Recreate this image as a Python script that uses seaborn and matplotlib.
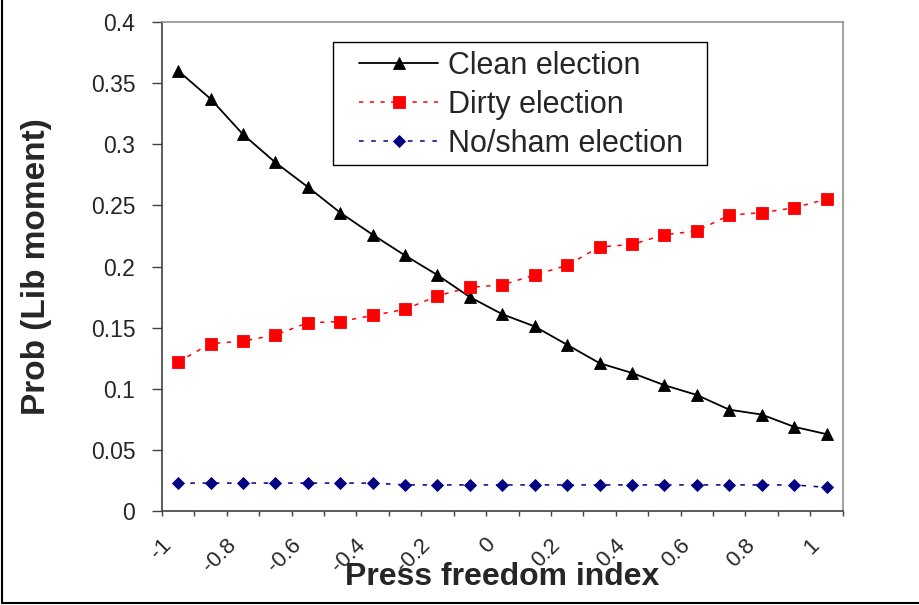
"""
Probability of a liberalizing moment by press freedom index
"""
import numpy as np
import pandas as pd
import matplotlib.pyplot as plt
import matplotlib.transforms as mtransforms
from matplotlib.lines import Line2D
from matplotlib.patches import Rectangle
from matplotlib.ticker import FixedLocator
import seaborn as sns

sns.set_style("white")
plt.rcParams['font.family'] = ['Liberation Sans', 'DejaVu Sans']

# Data
press_index = [-1.0, -0.9, -0.8, -0.7, -0.6, -0.5, -0.4, -0.3, -0.2, -0.1, 0.0,
               0.1, 0.2, 0.3, 0.4, 0.5, 0.6, 0.7, 0.8, 0.9, 1.0]
clean = [0.360, 0.337, 0.308, 0.285, 0.265, 0.244, 0.226, 0.209, 0.193, 0.175, 0.161,
         0.151, 0.136, 0.121, 0.113, 0.103, 0.095, 0.083, 0.079, 0.069, 0.063]
dirty = [0.122, 0.137, 0.139, 0.144, 0.154, 0.155, 0.160, 0.165, 0.176, 0.183, 0.185,
         0.193, 0.201, 0.216, 0.218, 0.226, 0.229, 0.242, 0.244, 0.248, 0.255]
no_sham = [0.023, 0.023, 0.023, 0.023, 0.023, 0.023, 0.023, 0.0215, 0.0215, 0.0215, 0.0215,
           0.0215, 0.0215, 0.0215, 0.0215, 0.0215, 0.0215, 0.0215, 0.0215, 0.0215, 0.0195]

series_names = ['Clean election', 'Dirty election', 'No/sham election']
y_ticks = [0, 0.05, 0.1, 0.15, 0.2, 0.25, 0.3, 0.35, 0.4]
x_label_ticks = [-1, -0.8, -0.6, -0.4, -0.2, 0, 0.2, 0.4, 0.6, 0.8, 1]

df = pd.DataFrame({
    'x': press_index * 3,
    'prob': clean + dirty + no_sham,
    'series': np.repeat(series_names, len(press_index)),
})

fig = plt.figure(figsize=(9.2, 6.05), dpi=100)
ax = fig.add_axes([0.176, 0.155, 0.740, 0.809])

palette = {'Clean election': 'black', 'Dirty election': '#FF0000', 'No/sham election': '#000080'}
markers = {'Clean election': '^', 'Dirty election': 's', 'No/sham election': 'D'}
dashes = {'Clean election': '', 'Dirty election': (2.8, 4.2), 'No/sham election': (3.0, 5.0)}

sns.lineplot(data=df, x='x', y='prob', hue='series', style='series',
             hue_order=series_names, style_order=series_names,
             palette=palette, markers=markers, dashes=dashes,
             linewidth=1.1, markersize=8.8, markeredgewidth=0.6,
             markeredgecolor='auto', legend=False, ax=ax)

# heavier solid line, smaller diamonds
ax.lines[0].set_linewidth(1.3)
ax.lines[0].set_markersize(9.2)
ax.lines[2].set_markersize(6.4)

# axes limits / ticks
half = 0.05
ax.set_xlim(press_index[0] - half, press_index[-1] + half)
ax.set_ylim(y_ticks[0], y_ticks[-1])

ax.set_yticks(y_ticks)
ax.set_yticklabels([f'{v:g}' for v in y_ticks], fontsize=16.5)
ax.tick_params(axis='y', which='major', direction='out', length=7.2, width=1,
               color='#404040', pad=12, left=True)

ax.set_xticks(x_label_ticks)
ax.set_xticklabels([f'{v:g}' for v in x_label_ticks], fontsize=16,
                   rotation=45, ha='right', va='center', rotation_mode='anchor')
ax.tick_params(axis='x', which='major', length=0, pad=22)
edges = [round(v - half, 2) for v in press_index] + [round(press_index[-1] + half, 2)]
ax.xaxis.set_minor_locator(FixedLocator(edges))
ax.tick_params(axis='x', which='minor', direction='out', length=3.6, width=1,
               color='#404040', bottom=True)

shift = mtransforms.ScaledTranslation(-10 / 100, 0, fig.dpi_scale_trans)
for lbl in ax.get_xticklabels():
    lbl.set_transform(lbl.get_transform() + shift)

# spines
for side in ['top', 'right']:
    ax.spines[side].set_color('#909090')
    ax.spines[side].set_linewidth(1.2)
for side in ['left', 'bottom']:
    ax.spines[side].set_color('#404040')
    ax.spines[side].set_linewidth(1.2)

ax.grid(False)

# axis titles
ax.set_xlabel('Press freedom index', fontsize=23, fontweight='bold')
ax.xaxis.label.set_va('center')
ax.xaxis.set_label_coords(0.5, -0.135)
ax.set_ylabel('Prob (Lib moment)', fontsize=24, fontweight='bold')
ax.yaxis.label.set_va('center')
ax.yaxis.set_label_coords(-0.184, 0.5)

# legend: frame drawn separately so the inner padding can differ per side
frame = Rectangle((0.2511, 0.7076), 0.8003 - 0.2511, 0.9577 - 0.7076,
                  transform=ax.transAxes, facecolor='white', edgecolor='black',
                  linewidth=1.0, zorder=5)
ax.add_patch(frame)
leg = ax.legend(handles=ax.lines[:3], labels=series_names, loc='upper left',
                bbox_to_anchor=(0.2893, 0.9407), borderaxespad=0, fontsize=22,
                frameon=False, numpoints=1,
                handlelength=2.6, handletextpad=0.33, labelspacing=0.3,
                borderpad=0)
leg.set_zorder(6)

# outer chart border (left and bottom visible)
fig.add_artist(Line2D([0.002, 0.002], [0.003, 1.0], transform=fig.transFigure,
                      color='black', linewidth=1.5))
fig.add_artist(Line2D([0.002, 1.0], [0.003, 0.003], transform=fig.transFigure,
                      color='black', linewidth=1.5))

fig.savefig('out.png', dpi=100)
print("Saved: out.png")
